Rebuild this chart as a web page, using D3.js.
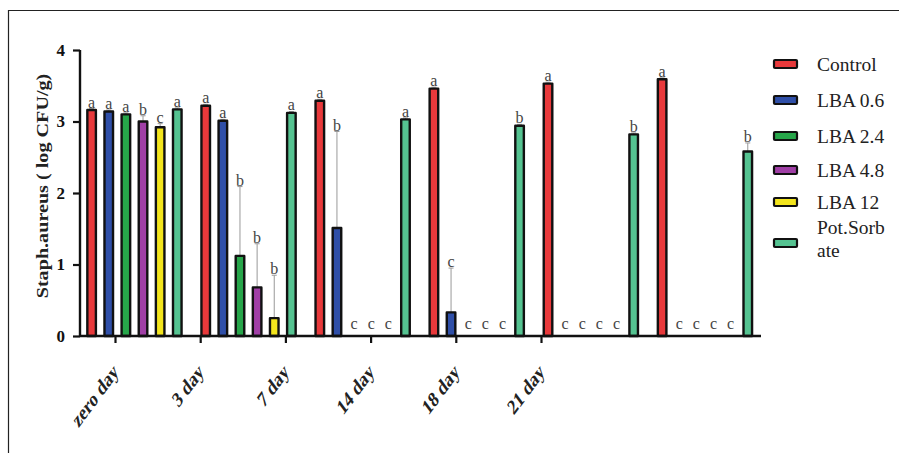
<!DOCTYPE html>
<html>
<head>
<meta charset="utf-8">
<script src="https://cdn.jsdelivr.net/npm/d3@7"></script>
<style>
  html, body { margin: 0; padding: 0; background: #fff; }
  svg { display: block; }
</style>
</head>
<body>
<svg id="chart" width="899" height="453"></svg>
<script>
// Sampling days and treatments
const days = ["zero day", "3 day", "7 day", "14 day", "18 day", "21 day"];
const series = ["Control", "LBA 0.6", "LBA 2.4", "LBA 4.8", "LBA 12", "Pot.Sorbate"];
const legendLabels = [["Control"], ["LBA 0.6"], ["LBA 2.4"], ["LBA 4.8"], ["LBA 12"], ["Pot.Sorb", "ate"]];
const colors = ["#e8393b", "#2f4fa8", "#27a64a", "#a03fa6", "#f3e51d", "#55c391"];

// Mean counts (log CFU/g) per treatment, by day
const control = [3.16, 3.22, 3.29, 3.46, 3.53, 3.59];
const lba06 = [3.14, 3.01, 1.51, 0.33, 0, 0];
const lba24 = [3.10, 1.12, 0, 0, 0, 0];
const lba48 = [3.00, 0.68, 0, 0, 0, 0];
const lba12 = [2.92, 0.25, 0, 0, 0, 0];
const potSorbate = [3.17, 3.12, 3.03, 2.94, 2.82, 2.58];

// Standard deviations
const controlErr = [0.02, 0.02, 0.02, 0.02, 0.02, 0.02];
const lba06Err = [0.02, 0.02, 1.35, 0.62, 0, 0];
const lba24Err = [0.02, 0.97, 0, 0, 0, 0];
const lba48Err = [0.08, 0.61, 0, 0, 0, 0];
const lba12Err = [0.05, 0.60, 0, 0, 0, 0];
const potSorbateErr = [0.02, 0.02, 0.02, 0.02, 0.02, 0.12];

// Significance letters
const controlSig = ["a", "a", "a", "a", "a", "a"];
const lba06Sig = ["a", "a", "b", "c", "c", "c"];
const lba24Sig = ["a", "b", "c", "c", "c", "c"];
const lba48Sig = ["b", "b", "c", "c", "c", "c"];
const lba12Sig = ["c", "b", "c", "c", "c", "c"];
const potSorbateSig = ["a", "a", "a", "b", "b", "b"];

const yTicks = [0, 1, 2, 3, 4];

const values = [control, lba06, lba24, lba48, lba12, potSorbate];
const errors = [controlErr, lba06Err, lba24Err, lba48Err, lba12Err, potSorbateErr];
const letters = [controlSig, lba06Sig, lba24Sig, lba48Sig, lba12Sig, potSorbateSig];

const rows = [];
days.forEach((day, di) => {
  series.forEach((s, si) => {
    rows.push({ day, series: s, si, value: values[si][di], err: errors[si][di], sig: letters[si][di] });
  });
});

const svg = d3.select("#chart");
const serif = "'Liberation Serif', 'Times New Roman', serif";

// Outer frame (top and left edges)
svg.append("path")
  .attr("d", "M8.5,453 V10.5 H899")
  .attr("fill", "none").attr("stroke", "#222").attr("stroke-width", 1.2);

const y = d3.scaleLinear().domain([0, 4]).range([336, 50]);
const xGroup = d3.scaleBand().domain(days).range([77.4, 762]).padding(0);
const xSub = d3.scaleBand().domain(series).range([0, xGroup.bandwidth()])
  .paddingInner(0.5).paddingOuter(0.58);
const xTick = d3.scalePoint().domain(days).range([115, 541]);

const plot = svg.append("g");

// Error bars
const errRows = rows.filter(d => d.err > 0 && d.value > 0);
const cx = d => xGroup(d.day) + xSub(d.series) + xSub.bandwidth() / 2;
plot.selectAll("line.err").data(errRows).join("line")
  .attr("class", "err")
  .attr("x1", cx).attr("x2", cx)
  .attr("y1", d => y(d.value))
  .attr("y2", d => y(d.value + d.err))
  .attr("stroke", "#999").attr("stroke-width", 1);
plot.selectAll("line.cap").data(errRows).join("line")
  .attr("class", "cap")
  .attr("x1", d => cx(d) - 2.5)
  .attr("x2", d => cx(d) + 2.5)
  .attr("y1", d => y(d.value + d.err))
  .attr("y2", d => y(d.value + d.err))
  .attr("stroke", "#999").attr("stroke-width", 1);

// Bars
plot.selectAll("rect.bar").data(rows.filter(d => d.value > 0)).join("rect")
  .attr("class", "bar")
  .attr("x", d => xGroup(d.day) + xSub(d.series))
  .attr("width", xSub.bandwidth())
  .attr("y", d => y(d.value))
  .attr("height", d => y(0) - y(d.value))
  .attr("fill", d => colors[d.si])
  .attr("stroke", "#111").attr("stroke-width", 2.4)
  .attr("stroke-linejoin", "round");

// Significance letters
plot.selectAll("text.sig").data(rows).join("text")
  .attr("class", "sig")
  .attr("x", cx)
  .attr("y", d => d.value > 0 ? y(d.value + d.err) - 1 : y(0) - 7)
  .attr("text-anchor", "middle")
  .attr("font-family", serif).attr("font-size", 16)
  .attr("fill", "#444")
  .text(d => d.sig);

// Y axis
const yAxis = svg.append("g").attr("transform", "translate(80,0)")
  .call(d3.axisLeft(y).tickValues(yTicks).tickFormat(d3.format("d")).tickSize(7).tickPadding(8));
yAxis.select(".domain").attr("stroke", "#111").attr("stroke-width", 2.4).attr("d", "M0,50 V336");
yAxis.selectAll(".tick line").attr("stroke", "#111").attr("stroke-width", 2.2);
yAxis.selectAll(".tick text")
  .attr("font-family", serif).attr("font-size", 17).attr("font-weight", "bold").attr("fill", "#111");

// X axis baseline and ticks
const xAxis = svg.append("g").attr("transform", "translate(0,336)")
  .call(d3.axisBottom(xTick).tickSize(7).tickFormat(""));
xAxis.select(".domain").attr("stroke", "#111").attr("stroke-width", 2.4).attr("d", "M80,0 H761");
xAxis.selectAll(".tick line").attr("stroke", "#111").attr("stroke-width", 2.2);
xAxis.selectAll(".tick").append("text")
  .attr("transform", "translate(4,37) scale(1,1.35) rotate(-45)")
  .attr("text-anchor", "end")
  .attr("font-family", serif).attr("font-size", 16).attr("font-weight", "bold")
  .attr("fill", "#222")
  .text(d => d);

// Y axis title
svg.append("text")
  .attr("transform", "translate(48,186) scale(1,1.26) rotate(-90)")
  .attr("text-anchor", "middle")
  .attr("font-family", serif).attr("font-size", 16).attr("font-weight", "bold")
  .attr("fill", "#222")
  .text("Staph.aureus ( log CFU/g)");

// Legend
const legendY = [64, 100, 136, 170, 202, 243];
const legend = svg.append("g");
series.forEach((s, i) => {
  const g = legend.append("g").attr("transform", `translate(774,${legendY[i]})`);
  g.append("rect").attr("x", 0).attr("y", -4).attr("width", 23).attr("height", 8)
    .attr("fill", colors[i]).attr("stroke", "#111").attr("stroke-width", 2.2).attr("rx", 1);
  const lines = legendLabels[i];
  const t = g.append("text")
    .attr("font-family", serif).attr("font-size", 19.5).attr("fill", "#222");
  lines.forEach((ln, k) => {
    t.append("tspan").attr("x", 43)
      .attr("y", lines.length === 1 ? 6.5 : -9 + k * 23)
      .text(ln);
  });
});
</script>
</body>
</html>
